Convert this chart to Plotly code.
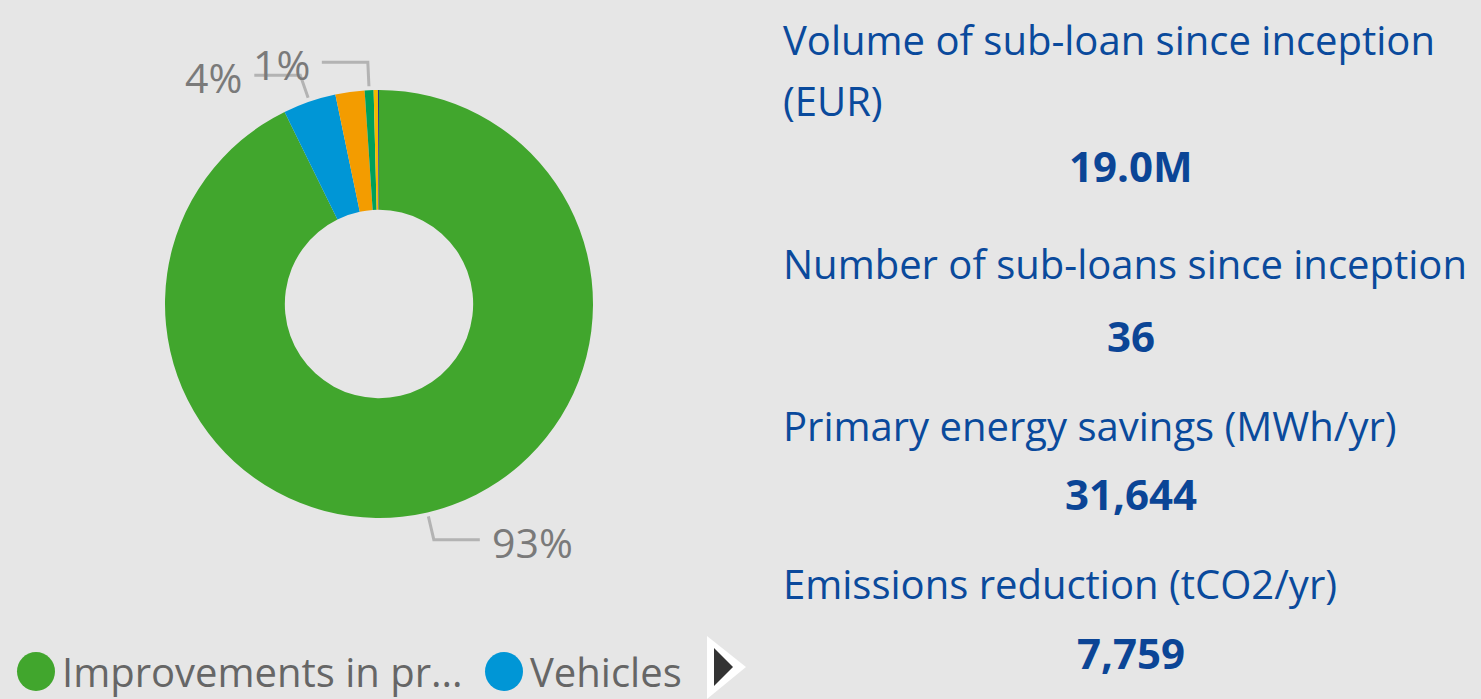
import math
import plotly.graph_objects as go

W, H = 1481, 699

# ---- data ----
categories = ["Improvements in production processes", "Vehicles", "Buildings",
              "Renewable energy", "Lighting", "Other"]
values = [92.7, 4.0, 2.2, 0.67, 0.32, 0.08]
colors = ["#41A62D", "#0096D6", "#F39C00", "#00A05A", "#F5B800", "#1F3A93"]
labelled = [0, 1, 3]

kpi_title_lines = [["Volume of sub-loan since inception", "(EUR)"],
                   ["Number of sub-loans since inception"],
                   ["Primary energy savings (MWh/yr)"],
                   ["Emissions reduction (tCO2/yr)"]]
kpi_values = ["19.0M", "36", "31,644", "7,759"]

legend_items = ["Improvements in pr...", "Vehicles"]

# ---- geometry helpers ----
def px(x):
    return x / W

def py(y):
    return 1 - y / H

CX, CY, R = 379, 304, 214
BG = "#E6E6E6"
BLUE_TXT = "#0A4A9C"
FONT = "Segoe UI, Open Sans, Noto Sans, sans-serif"

fig = go.Figure()
fig.add_trace(go.Pie(
    labels=categories, values=values, hole=0.44, sort=False,
    direction="clockwise", rotation=0,
    marker=dict(colors=colors, line=dict(width=0)),
    textinfo="none", hoverinfo="label+percent", showlegend=False,
    domain=dict(x=[px(CX - R), px(CX + R)], y=[py(CY + R), py(CY - R)]),
))

shapes = []
annotations = []

# leader lines + percent labels, computed from data
total = sum(values)
cum = 0.0
for i, v in enumerate(values):
    start = cum
    cum += v
    if i not in labelled:
        continue
    mid = (start + v / 2) / total * 2 * math.pi  # clockwise from top
    sx, sy = math.sin(mid), -math.cos(mid)
    x0, y0 = CX + (R + 4) * sx, CY + (R + 4) * sy
    x1, y1 = CX + (R + 28) * sx, CY + (R + 28) * sy
    side = 1 if sx > 0 else -1
    x2 = x1 + side * 46
    shapes.append(dict(type="path", xref="paper", yref="paper",
                       path=f"M{px(x0)},{py(y0)} L{px(x1)},{py(y1)} L{px(x2)},{py(y1)}",
                       line=dict(color="#B3B3B3", width=3)))
    pct = round(v / total * 100)
    annotations.append(dict(x=px(x2 + side * 10), y=py(y1 + 2), xref="paper", yref="paper",
                            text=f"{pct}%", showarrow=False,
                            xanchor="left" if side > 0 else "right", yanchor="middle",
                            font=dict(family=FONT, size=41, color="#7A7A7A")))

# KPI cards
title_y = [[40, 100], [263], [425], [583]]
value_y = [165, 335, 493, 652]
for lines, tys, v, vy in zip(kpi_title_lines, title_y, kpi_values, value_y):
    for t, ty in zip(lines, tys):
        annotations.append(dict(x=px(781), y=py(ty), xref="paper", yref="paper", text=t,
                                showarrow=False, xanchor="left", yanchor="middle", align="left",
                                font=dict(family=FONT, size=40, color=BLUE_TXT)))
    annotations.append(dict(x=px(1131), y=py(vy), xref="paper", yref="paper",
                            text=f"<b>{v}</b>", showarrow=False, xanchor="center",
                            yanchor="middle",
                            font=dict(family=FONT, size=42, color="#0B4596")))

# custom legend
leg_x = [17, 485]
for name, col, lx in zip(legend_items, colors[:2], leg_x):
    shapes.append(dict(type="circle", xref="paper", yref="paper",
                       x0=px(lx), x1=px(lx + 38), y0=py(691), y1=py(652),
                       fillcolor=col, line=dict(width=0)))
    annotations.append(dict(x=px(lx + 43), y=py(671), xref="paper", yref="paper",
                            text=name, showarrow=False, xanchor="left", yanchor="middle",
                            font=dict(family=FONT, size=40, color="#666666")))

# pagination arrow
shapes.append(dict(type="path", xref="paper", yref="paper",
                   path=f"M{px(707)},{py(636)} L{px(746)},{py(667)} L{px(707)},{py(699)} Z",
                   fillcolor="white", line=dict(width=0)))
shapes.append(dict(type="path", xref="paper", yref="paper",
                   path=f"M{px(714)},{py(648)} L{px(733)},{py(667)} L{px(714)},{py(686)} Z",
                   fillcolor="#333333", line=dict(width=0)))

fig.update_layout(
    width=W, height=H, margin=dict(l=0, r=0, t=0, b=0),
    paper_bgcolor=BG, plot_bgcolor=BG,
    shapes=shapes, annotations=annotations,
)
fig.write_html("out.html", config={"displayModeBar": False},
               post_script="document.body.style.margin='0';document.body.style.overflow='hidden';")
